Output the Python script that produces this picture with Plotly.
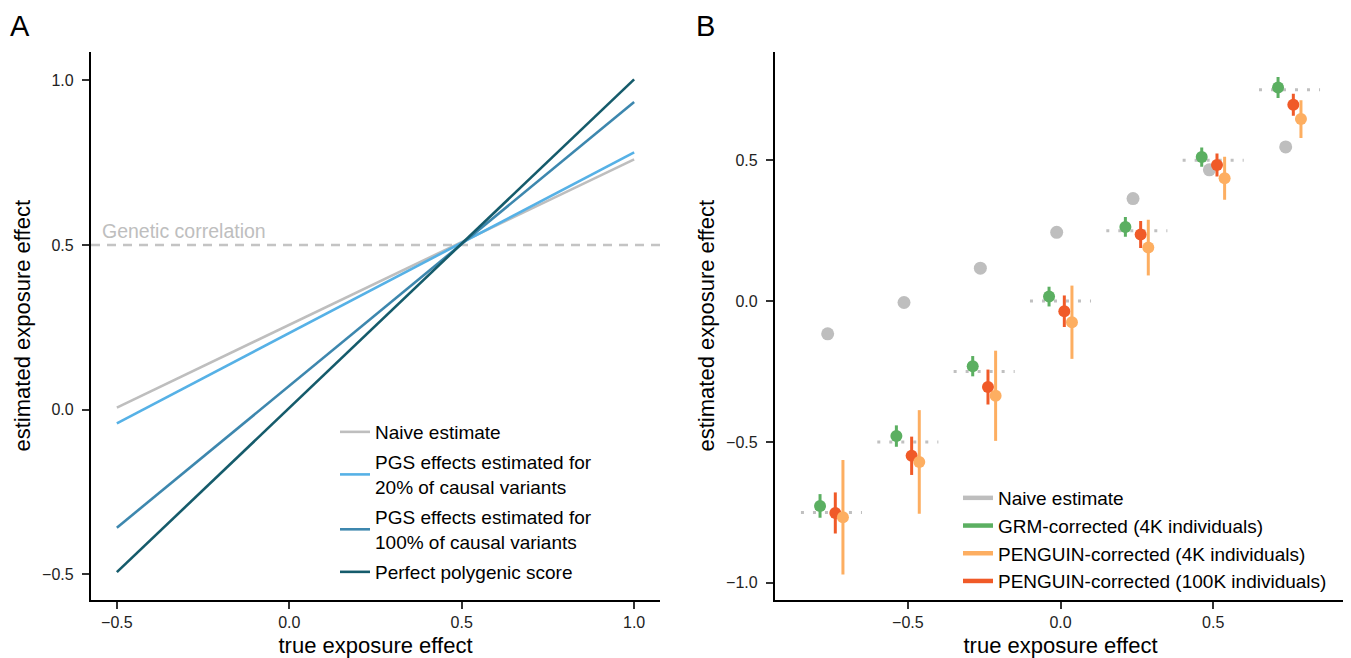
import plotly.graph_objects as go

# The page body adds an 8px margin, so the figure is 8px smaller and all pixel
# positions below are given in reference-image pixels and shifted by OFF.
OFF = 8
W, H = 1351 - OFF, 658 - OFF
FONT = "Liberation Sans, Arial, Helvetica, sans-serif"

# ---------------- Panel A data ----------------
a_true = [-0.5, 1.0]
a_naive = [0.006, 0.760]
a_pgs20 = [-0.042, 0.781]
a_pgs100 = [-0.359, 0.934]
a_perfect = [-0.494, 1.003]
genetic_corr = 0.5

a_names = ["Naive estimate",
           "PGS effects estimated for<br>20% of causal variants",
           "PGS effects estimated for<br>100% of causal variants",
           "Perfect polygenic score"]
a_colors = ["#BEBEBE", "#56B1E6", "#3D87AE", "#155B6B"]

# ---------------- Panel B data ----------------
b_true = [-0.75, -0.5, -0.25, 0.0, 0.25, 0.5, 0.75]
b_naive = [-0.116, -0.005, 0.117, 0.244, 0.364, 0.466, 0.547]
b_grm = [-0.727, -0.479, -0.231, 0.016, 0.263, 0.511, 0.758]
b_grm_err = [0.042, 0.038, 0.036, 0.035, 0.035, 0.034, 0.037]
b_p100k = [-0.752, -0.549, -0.305, -0.036, 0.236, 0.483, 0.697]
b_p100k_err = [0.073, 0.068, 0.062, 0.056, 0.048, 0.041, 0.039]
b_p4k = [-0.767, -0.571, -0.336, -0.075, 0.190, 0.436, 0.646]
b_p4k_err = [0.203, 0.184, 0.160, 0.130, 0.099, 0.076, 0.067]

b_names = ["Naive estimate", "GRM-corrected (4K individuals)",
           "PENGUIN-corrected (4K individuals)", "PENGUIN-corrected (100K individuals)"]
b_colors = ["#BEBEBE", "#5BAF61", "#FDAE61", "#F05A28"]

dodge_width = 0.1
seg_half = 0.1

fig = go.Figure()

# ---- Panel A traces ----
for name, ys, col in zip(a_names, [a_naive, a_pgs20, a_pgs100, a_perfect], a_colors):
    fig.add_trace(go.Scatter(x=a_true, y=ys, mode="lines", name=name,
                             line=dict(color=col, width=2.6),
                             xaxis="x", yaxis="y", legend="legend",
                             legendgroup=name))

fig.add_shape(type="line", xref="x domain", yref="y", x0=0, x1=1,
              y0=genetic_corr, y1=genetic_corr,
              line=dict(color="#C4C4C4", width=2.6, dash="9px,7px"), layer="below")
fig.add_annotation(x=-0.55, y=genetic_corr, xref="x", yref="y", text="Genetic correlation",
                   showarrow=False, xanchor="left", yanchor="bottom", yshift=1,
                   font=dict(family=FONT, size=19.5, color="#BEBEBE"))

# ---- Panel B traces ----
seg_x, seg_y = [], []
for t in b_true:
    seg_x += [t - seg_half, t + seg_half, None]
    seg_y += [t, t, None]
fig.add_trace(go.Scatter(x=seg_x, y=seg_y, mode="lines", showlegend=False,
                         line=dict(color="#C0C0C0", width=3, dash="3px,9px"),
                         xaxis="x2", yaxis="y2", hoverinfo="skip"))

step = dodge_width / 4
off_grm, off_naive, off_p100k, off_p4k = -1.5 * step, -0.5 * step, 0.5 * step, 1.5 * step

fig.add_trace(go.Scatter(x=[t + off_naive for t in b_true], y=b_naive, mode="markers",
                         marker=dict(color=b_colors[0], size=13), showlegend=False,
                         xaxis="x2", yaxis="y2"))
for ys, err, col, off in [(b_grm, b_grm_err, b_colors[1], off_grm),
                          (b_p100k, b_p100k_err, b_colors[3], off_p100k),
                          (b_p4k, b_p4k_err, b_colors[2], off_p4k)]:
    fig.add_trace(go.Scatter(x=[t + off for t in b_true], y=ys, mode="markers",
                             marker=dict(color=col, size=12), showlegend=False,
                             error_y=dict(type="data", array=err, color=col, thickness=3, width=0),
                             xaxis="x2", yaxis="y2"))

# legend entries for panel B (line keys)
for name, col in zip(b_names, b_colors):
    fig.add_trace(go.Scatter(x=[None], y=[None], mode="lines", name=name,
                             line=dict(color=col, width=4.5), xaxis="x2", yaxis="y2",
                             legend="legend2", legendgroup="b"))

# ---------------- Layout ----------------
def px_x(p):
    return (p - OFF) / W

def px_y(p):
    return 1 - (p - OFF) / H

tickfont = dict(family=FONT, size=16, color="#222222")
titlefont = dict(family=FONT, size=22, color="#000000")
common = dict(showgrid=False, zeroline=False, showline=True, linecolor="#000000", linewidth=2.2,
              ticks="outside", ticklen=7, tickwidth=2, tickcolor="#333333",
              tickfont=tickfont, tickformat=".1f", automargin=False)

fig.update_layout(
    width=W, height=H, margin=dict(l=0, r=0, t=0, b=0),
    paper_bgcolor="white", plot_bgcolor="white",
    font=dict(family=FONT),
    xaxis=dict(domain=[px_x(91), px_x(660)], range=[-0.575, 1.075],
               tickvals=[-0.5, 0, 0.5, 1.0], anchor="y",
               title=dict(text="true exposure effect", font=titlefont, standoff=8), **common),
    yaxis=dict(domain=[px_y(599.5), px_y(52)], range=[-0.577, 1.086],
               tickvals=[-0.5, 0, 0.5, 1.0], anchor="x", ticklabelstandoff=5,
               title=dict(text="estimated exposure effect", font=titlefont, standoff=5), **common),
    xaxis2=dict(domain=[px_x(775), px_x(1346)], range=[-0.935, 0.935],
                tickvals=[-0.5, 0, 0.5], anchor="y2",
                title=dict(text="true exposure effect", font=titlefont, standoff=8), **common),
    yaxis2=dict(domain=[px_y(599.5), px_y(52)], range=[-1.059, 0.884],
                tickvals=[-1.0, -0.5, 0, 0.5], anchor="x2", ticklabelstandoff=5,
                title=dict(text="estimated exposure effect", font=titlefont, standoff=5), **common),
    legend=dict(x=px_x(335), y=px_y(413), xanchor="left", yanchor="top",
                bgcolor="rgba(0,0,0,0)", font=dict(family=FONT, size=19, color="#000000"),
                tracegroupgap=2.5, traceorder="grouped", itemwidth=30),
    legend2=dict(x=px_x(958), y=px_y(479), xanchor="left", yanchor="top",
                 bgcolor="rgba(0,0,0,0)", font=dict(family=FONT, size=19, color="#000000"),
                 tracegroupgap=0, traceorder="normal", itemwidth=30),
    showlegend=True,
)

fig.add_annotation(x=px_x(8), y=px_y(44), xref="paper", yref="paper", text="A",
                   showarrow=False, xanchor="left", yanchor="bottom",
                   font=dict(family=FONT, size=29, color="#000000"))
fig.add_annotation(x=px_x(694), y=px_y(44), xref="paper", yref="paper", text="B",
                   showarrow=False, xanchor="left", yanchor="bottom",
                   font=dict(family=FONT, size=29, color="#000000"))

fig.write_html("out.html")
